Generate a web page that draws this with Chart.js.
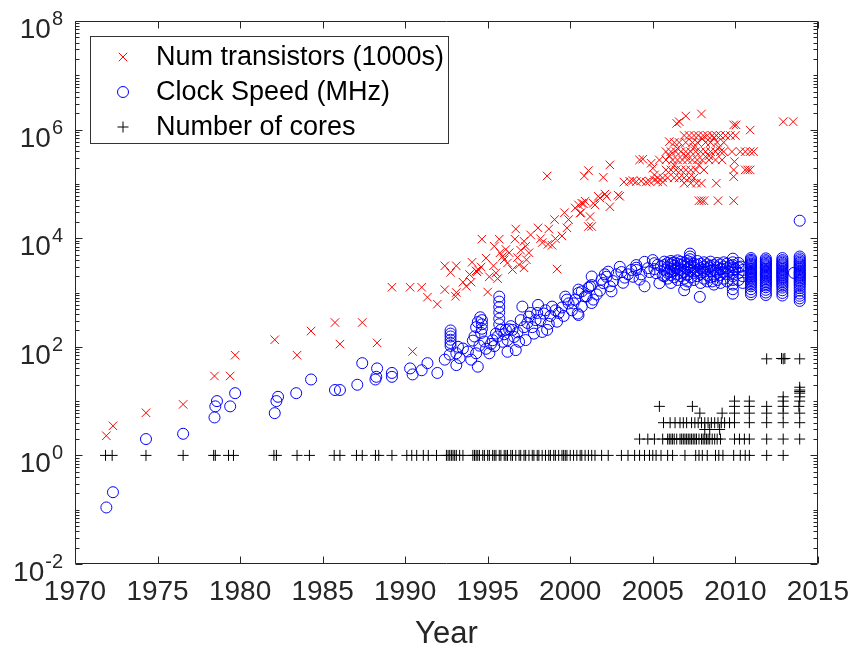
<!doctype html>
<html lang="en-US">
<head>
<meta charset="utf-8" />
<title>Processor trends</title>
<script src="https://cdn.jsdelivr.net/npm/chart.js"></script>
<style>
  body { margin: 0; background: #fff; }
  #wrap { width: 860px; height: 650px; }
</style>
</head>
<body>
<div id="wrap"><canvas id="chart" width="860" height="650"></canvas></div>
<script>
// axis ticks
const xTicks = [1970, 1975, 1980, 1985, 1990, 1995, 2000, 2005, 2010, 2015];
const yTickExponents = [-2, 0, 2, 4, 6, 8];

// number of transistors (in 1000s), [year, value]
const transistorsEarly = [
  [1971.9, 2.3], [1972.3, 3.5], [1974.3, 6.1], [1976.55, 8.7], [1978.45, 29], [1979.4, 29],
  [1979.7, 70], [1982.1, 135], [1983.45, 70], [1984.3, 195], [1985.75, 280], [1986.05, 112],
  [1987.4, 280], [1988.3, 118]
];
const transistors90s = [
  [1989.2, 1250], [1990.3, 1250], [1991.0, 1250], [1990.45, 82], [1991.35, 820], [1991.95, 610],
  [1992.4, 3100], [1992.4, 1130], [1992.75, 2350], [1993.1, 3100], [1993.1, 1000], [1993.05, 850],
  [1993.5, 1550], [1993.7, 1300], [1993.9, 2150], [1994.05, 3600], [1994.3, 2500], [1994.35, 2400],
  [1994.45, 2600], [1994.0, 1550], [1994.65, 9600], [1995.0, 1020], [1995.4, 7100], [1995.7, 9600],
  [1995.35, 3100], [1995.5, 2300], [1995.6, 1800], [1995.75, 5400], [1996.0, 4000], [1996.3, 5400],
  [1996.5, 2650], [1996.7, 14800], [1996.65, 9600], [1996.9, 3250], [1997.2, 2850], [1997.2, 8800],
  [1997.3, 7100], [1997.5, 5400], [1997.35, 4000], [1994.9, 4300], [1994.6, 2950], [1995.1, 1950],
  [1995.9, 4600], [1996.1, 6200], [1996.2, 3500], [1996.8, 4400], [1997.0, 6000], [1997.6, 11500],
  [1998.05, 15500], [1998.2, 9800], [1998.3, 8300], [1998.7, 14800], [1998.65, 7700], [1998.9, 7400],
  [1998.6, 140000], [1999.05, 22000], [1999.2, 2700], [1999.1, 9800], [1999.5, 11000], [1999.65, 29500],
  [1999.9, 22000], [1999.8, 15500], [2000.3, 36000], [2000.65, 29500], [2000.8, 43000], [2000.85, 140000]
];
const transistors2000s = [
  [2001.1, 176000], [2001.1, 16400], [2001.4, 44000], [2001.3, 16400], [2002.4, 224000], [2002.0, 132000],
  [2000.5, 41000], [2000.7, 44000], [2000.6, 29000], [2001.2, 25000], [2001.5, 41000], [2001.8, 55000],
  [2002.2, 59000], [2002.4, 38000], [2003.0, 59000], [2000.9, 48000], [2001.7, 59000], [2002.1, 65000],
  [2002.9, 62000], [2003.25, 108000], [2003.6, 112000], [2003.8, 115000], [2004.0, 110000], [2004.3, 113000],
  [2004.6, 108000], [2004.8, 112000], [2005.1, 118000], [2005.3, 110000], [2005.6, 108000], [2004.4, 285000],
  [2005.0, 195000], [2005.4, 276000], [2006.0, 600000], [2005.1, 146000], [2004.9, 240000], [2004.2, 276000],
  [2006.45, 1300000], [2006.6, 1400000], [2007.0, 1780000], [2007.95, 1940000],
  [2006.9, 103000], [2007.3, 103000], [2007.65, 103000], [2007.95, 103000], [2008.85, 103000],
  [2007.8, 49000], [2007.95, 49000], [2008.1, 49000], [2008.95, 49000], [2009.9, 49000],
  [2009.9, 181000], [2009.9, 136000], [2009.95, 257000], [2009.9, 1220000], [2010.05, 1220000],
  [2010.9, 980000], [2009.8, 393000], [2010.3, 393000], [2010.6, 393000], [2010.9, 393000], [2011.1, 393000],
  [2010.6, 181000], [2010.75, 181000], [2010.9, 181000], [2012.9, 1400000], [2013.5, 1400000]
];
const transistorsCluster = [
  [2006.9, 780000], [2007.2, 780000], [2007.5, 780000], [2007.75, 780000], [2008.05, 780000], [2008.3, 780000],
  [2008.6, 780000], [2008.85, 780000], [2009.1, 780000], [2009.4, 780000], [2009.7, 780000], [2010.0, 780000],
  [2006.3, 580000], [2006.6, 580000], [2007.0, 580000], [2007.4, 580000], [2007.7, 580000], [2008.2, 580000],
  [2008.5, 580000], [2008.9, 580000], [2009.3, 580000],
  [2005.8, 393000], [2006.1, 393000], [2006.4, 393000], [2006.7, 393000], [2007.0, 393000], [2007.3, 393000],
  [2007.6, 393000], [2007.9, 393000], [2008.2, 393000], [2008.5, 393000], [2008.8, 393000], [2009.1, 393000],
  [2009.3, 393000],
  [2005.8, 276000], [2006.2, 276000], [2006.5, 276000], [2006.8, 276000], [2007.1, 276000], [2007.4, 276000],
  [2007.7, 276000], [2008.0, 276000], [2008.4, 276000], [2008.8, 276000], [2009.2, 276000],
  [2005.8, 181000], [2006.1, 181000], [2006.4, 181000], [2006.7, 181000], [2007.0, 181000], [2007.3, 181000],
  [2007.6, 181000], [2008.1, 181000],
  [2005.3, 129000], [2005.6, 129000], [2005.9, 129000], [2006.3, 129000], [2006.6, 129000], [2006.9, 129000],
  [2007.2, 129000], [2007.5, 129000],
  [2006.0, 330000], [2006.5, 450000], [2007.0, 330000], [2007.5, 470000], [2008.0, 680000], [2008.4, 330000],
  [2008.7, 700000], [2009.0, 470000], [2007.8, 220000], [2006.3, 220000]
];

// clock speed (MHz), [year, value]
const clockEarly = [
  [1971.9, 0.11], [1972.3, 0.21], [1974.3, 2.0], [1976.55, 2.5], [1978.45, 5.0], [1978.5, 8.0],
  [1978.6, 10], [1979.4, 8.0], [1979.7, 14], [1982.1, 6.0], [1982.2, 10], [1982.3, 12],
  [1983.4, 14], [1984.3, 25], [1985.75, 16], [1986.05, 16], [1987.1, 20], [1987.4, 50],
  [1988.2, 25], [1988.3, 40], [1988.25, 28], [1989.2, 33], [1989.2, 28], [1990.3, 40],
  [1990.45, 31], [1991.0, 37], [1991.35, 50], [1991.95, 33], [1992.4, 58]
];
const clock90s = [
  [1992.75, 200], [1992.75, 175], [1992.75, 155], [1992.75, 135], [1992.75, 118], [1992.75, 104],
  [1992.7, 72], [1993.1, 76], [1993.1, 46], [1993.5, 93], [1993.3, 62], [1993.8, 82], [1993.2, 100],
  [1994.1, 130], [1994.3, 230], [1994.4, 285], [1994.55, 350], [1994.65, 310], [1994.65, 260],
  [1994.65, 215], [1994.3, 76], [1994.0, 58], [1994.4, 43], [1994.5, 105], [1994.2, 155],
  [1994.8, 125], [1994.9, 92], [1994.6, 180],
  [1995.1, 76], [1995.7, 840], [1995.7, 680], [1995.7, 540], [1995.7, 430], [1995.7, 330],
  [1995.7, 260], [1995.3, 132], [1995.5, 175], [1995.4, 103], [1995.6, 155], [1995.8, 205],
  [1995.2, 113], [1995.9, 124],
  [1996.1, 205], [1996.3, 210], [1996.5, 205], [1996.2, 133], [1996.6, 152], [1996.7, 87],
  [1996.2, 81], [1996.0, 170], [1996.4, 240], [1996.8, 185], [1996.9, 124],
  [1997.1, 550], [1997.5, 360], [1997.2, 230], [1997.7, 230], [1997.8, 175], [1997.3, 133],
  [1997.4, 275], [1997.0, 310], [1997.6, 420], [1997.9, 310],
  [1998.05, 590], [1998.4, 410], [1998.7, 265], [1998.3, 188], [1998.9, 550], [1998.2, 310],
  [1998.5, 470], [1998.8, 370], [1998.6, 205], [1998.0, 420],
  [1999.2, 290], [1999.7, 840], [1999.9, 630], [1999.5, 530], [1999.3, 420], [1999.1, 470],
  [1999.6, 370], [1999.8, 740]
];
const clock2000s = [
  [2000.1, 470], [2000.45, 410], [2000.7, 1050], [2000.5, 980], [2000.5, 1130], [2000.5, 385],
  [2000.7, 550], [2000.3, 740], [2000.2, 630], [2000.9, 850],
  [2001.0, 850], [2001.2, 1300], [2001.3, 1970], [2001.3, 640], [2001.1, 1220], [2001.3, 1370],
  [2001.4, 740], [2001.6, 920], [2001.8, 1080], [2001.9, 1730],
  [2002.0, 1490], [2002.1, 2160], [2002.3, 2420], [2002.5, 1050], [2002.2, 1950], [2002.6, 1620],
  [2002.8, 2160], [2002.4, 1300],
  [2003.0, 2970], [2003.1, 2380], [2003.3, 1880], [2003.5, 2160], [2003.7, 2600], [2003.2, 1510],
  [2003.8, 1950],
  [2004.0, 3200], [2004.0, 2860], [2004.0, 2600], [2004.5, 1300], [2004.5, 3670], [2004.3, 2160],
  [2004.7, 2800], [2004.2, 1730], [2004.8, 2380],
  [2005.0, 3950], [2005.1, 3460], [2005.4, 1490], [2005.2, 2270], [2005.5, 3020], [2005.3, 3240],
  [2005.6, 2050], [2005.1, 2700]
];
const clockMulticore = [
  [2005.7, 2000], [2005.7, 2600], [2005.7, 3200], [2005.7, 3700],
  [2005.9, 1800], [2005.9, 2300], [2005.9, 2900], [2005.9, 3500],
  [2006.0, 2450],
  [2006.1, 1500], [2006.1, 2100], [2006.1, 2700], [2006.1, 3300], [2006.1, 3800],
  [2006.2, 3500],
  [2006.3, 1900], [2006.3, 2500], [2006.3, 3100], [2006.3, 3600],
  [2006.4, 2800],
  [2006.5, 1700], [2006.5, 2200], [2006.5, 2800], [2006.5, 3400], [2006.5, 3900],
  [2006.7, 2000], [2006.7, 2600], [2006.7, 3200], [2006.7, 3700],
  [2006.8, 2300],
  [2006.9, 1100], [2006.9, 1800], [2006.9, 2400], [2006.9, 3000], [2006.9, 3500],
  [2007.0, 1400],
  [2007.1, 1600], [2007.1, 2100], [2007.1, 2700], [2007.1, 3300], [2007.1, 3800],
  [2007.2, 2900],
  [2007.25, 4100], [2007.25, 4600], [2007.25, 5200],
  [2007.3, 1900], [2007.3, 2500], [2007.3, 3100], [2007.3, 3600],
  [2007.5, 1700], [2007.5, 2300], [2007.5, 2900], [2007.5, 3400],
  [2007.6, 2450],
  [2007.7, 2000], [2007.7, 2600], [2007.7, 3200], [2007.7, 3800],
  [2007.85, 830],
  [2007.9, 1500], [2007.9, 2200], [2007.9, 2800], [2007.9, 3400],
  [2008.0, 2600],
  [2008.1, 1800], [2008.1, 2400], [2008.1, 3000], [2008.1, 3600],
  [2008.3, 1600], [2008.3, 2100], [2008.3, 2700], [2008.3, 3300],
  [2008.4, 2900],
  [2008.5, 1900], [2008.5, 2500], [2008.5, 3100], [2008.5, 3700],
  [2008.6, 1600],
  [2008.7, 1400], [2008.7, 2000], [2008.7, 2600], [2008.7, 3200],
  [2008.8, 2500],
  [2008.9, 1700], [2008.9, 2300], [2008.9, 2900], [2008.9, 3500],
  [2009.1, 1500], [2009.1, 2100], [2009.1, 2700], [2009.1, 3300],
  [2009.2, 2700],
  [2009.3, 1800], [2009.3, 2400], [2009.3, 3000], [2009.3, 3600],
  [2009.5, 1600], [2009.5, 2200], [2009.5, 2800], [2009.5, 3400],
  [2009.6, 2400], [2009.7, 3100],
  [2009.85, 950], [2009.85, 1150], [2009.85, 1400], [2009.85, 1700], [2009.85, 2000],
  [2009.85, 2300], [2009.85, 2600], [2009.85, 2900], [2009.85, 3200], [2009.85, 3600], [2009.85, 4200],
  [2010.0, 2700],
  [2010.2, 1700], [2010.2, 2300], [2010.2, 2900], [2010.2, 3500],
  [2010.35, 3000],
  [2010.45, 1500], [2010.45, 2000], [2010.45, 2600]
];
const clockRecent = [
  [2010.95, 920], [2010.95, 1020], [2010.95, 1150], [2010.95, 1300], [2010.95, 1400], [2010.95, 1500],
  [2010.95, 1600], [2010.95, 1700], [2010.95, 1800], [2010.95, 1900], [2010.95, 2000], [2010.95, 2100],
  [2010.95, 2200], [2010.95, 2300], [2010.95, 2400], [2010.95, 2500], [2010.95, 2650], [2010.95, 2800],
  [2010.95, 2950], [2010.95, 3100], [2010.95, 3250], [2010.95, 3400], [2010.95, 3600], [2010.95, 3800],
  [2010.95, 4000], [2010.95, 4300],
  [2011.85, 900], [2011.85, 1000], [2011.85, 1120], [2011.85, 1250], [2011.85, 1350], [2011.85, 1450],
  [2011.85, 1550], [2011.85, 1650], [2011.85, 1750], [2011.85, 1850], [2011.85, 1950], [2011.85, 2050],
  [2011.85, 2150], [2011.85, 2250], [2011.85, 2350], [2011.85, 2450], [2011.85, 2600], [2011.85, 2750],
  [2011.85, 2900], [2011.85, 3050], [2011.85, 3200], [2011.85, 3350], [2011.85, 3550], [2011.85, 3750],
  [2011.85, 3950], [2011.85, 4250],
  [2012.85, 880], [2012.85, 980], [2012.85, 1100], [2012.85, 1230], [2012.85, 1330], [2012.85, 1430],
  [2012.85, 1530], [2012.85, 1630], [2012.85, 1730], [2012.85, 1830], [2012.85, 1930], [2012.85, 2030],
  [2012.85, 2130], [2012.85, 2230], [2012.85, 2330], [2012.85, 2430], [2012.85, 2580], [2012.85, 2730],
  [2012.85, 2880], [2012.85, 3030], [2012.85, 3180], [2012.85, 3330], [2012.85, 3530], [2012.85, 3730],
  [2012.85, 3950], [2012.85, 4300], [2013.55, 2300],
  [2013.9, 700], [2013.9, 780], [2013.9, 870], [2013.9, 960], [2013.9, 1080], [2013.9, 1200],
  [2013.9, 1320], [2013.9, 1420], [2013.9, 1520], [2013.9, 1620], [2013.9, 1720], [2013.9, 1820],
  [2013.9, 1920], [2013.9, 2020], [2013.9, 2120], [2013.9, 2220], [2013.9, 2320], [2013.9, 2420],
  [2013.9, 2570], [2013.9, 2720], [2013.9, 2870], [2013.9, 3020], [2013.9, 3170], [2013.9, 3320],
  [2013.9, 3520], [2013.9, 3720], [2013.9, 3950], [2013.9, 4250], [2013.9, 4600], [2013.9, 21000]
];

// number of cores: years with 1, 2 and 4 cores, then the rest as [year, cores]
const coreYears1 = [
  1971.85, 1972.25, 1974.3, 1976.55, 1978.4, 1978.5, 1979.3, 1979.6, 1982.05, 1982.2, 1983.45, 1984.2,
  1985.7, 1986.05, 1987.05, 1987.4, 1988.2, 1988.4, 1989.2, 1990.1, 1990.4, 1990.7, 1991.1, 1991.4,
  1991.9, 1992.5, 1992.6, 1992.7, 1992.8, 1992.9, 1993.0, 1993.1, 1993.3, 1993.5, 1994.1, 1994.2,
  1994.3, 1994.4, 1994.5, 1994.7, 1994.8, 1995.0, 1995.1, 1995.3, 1995.4, 1995.5, 1995.7, 1995.8,
  1996.0, 1996.1, 1996.2, 1996.4, 1996.5, 1996.7, 1996.9, 1997.0, 1997.2, 1997.3, 1997.5, 1997.7,
  1997.8, 1998.0, 1998.1, 1998.3, 1998.5, 1998.7, 1998.8, 1999.0, 1999.1, 1999.3, 1999.5, 1999.6,
  1999.7, 1999.8, 2000.0, 2000.2, 2000.4, 2000.6, 2000.7, 2000.9, 2001.1, 2001.3, 2001.5, 2001.9,
  2002.3, 2003.1, 2003.5, 2003.9, 2004.2, 2004.5, 2004.8, 2005.0, 2005.2, 2005.5, 2005.9, 2006.2,
  2006.95, 2007.6, 2007.8, 2008.0, 2008.3, 2008.8, 2009.0, 2009.25, 2009.9, 2010.3, 2010.6, 2010.85,
  2011.9, 2012.9
];
const coreYears2 = [
  2004.2, 2004.7, 2005.1, 2005.6, 2005.9, 2006.0, 2006.1, 2006.2, 2006.3, 2006.45, 2006.65, 2006.75,
  2006.85, 2006.95, 2007.05, 2007.15, 2007.25, 2007.35, 2007.45, 2007.55, 2007.65, 2007.8, 2007.95,
  2008.05, 2008.15, 2008.25, 2008.35, 2008.45, 2008.6, 2008.75, 2008.9, 2009.1, 2009.95, 2010.25,
  2010.55, 2010.85, 2011.9, 2012.9, 2013.9
];
const coreYears4 = [
  2005.65, 2006.05, 2006.35, 2006.65, 2006.85, 2007.05, 2007.35, 2007.55, 2007.75, 2007.95, 2008.15,
  2008.35, 2008.55, 2008.75, 2008.95, 2009.15, 2009.35, 2009.65, 2009.95, 2010.85, 2011.9, 2012.9, 2013.9
];
const coresMany = [
  [2008.15, 3], [2008.45, 3], [2009.05, 3], [2007.85, 6], [2009.2, 6], [2009.95, 6], [2010.85, 6],
  [2011.9, 6], [2012.9, 6], [2013.9, 6], [2005.4, 8], [2007.4, 8], [2009.95, 8], [2010.85, 8],
  [2011.9, 8], [2012.9, 8], [2013.85, 8], [2009.95, 10], [2010.85, 10], [2012.9, 10], [2013.9, 10],
  [2012.9, 12], [2013.9, 12], [2013.9, 14], [2013.9, 15], [2013.9, 16], [2013.9, 18],
  [2011.9, 60], [2012.8, 61], [2012.9, 60], [2013.0, 61], [2013.9, 60]
];

const toPoints = arr => arr.map(([x, y]) => ({x: x, y: y}));
const transistors = [].concat(transistorsEarly, transistors90s, transistors2000s, transistorsCluster);
const clockSpeed = [].concat(clockEarly, clock90s, clock2000s, clockMulticore, clockRecent);
const cores = [].concat(
  coreYears1.map(y => [y, 1]), coreYears2.map(y => [y, 2]), coreYears4.map(y => [y, 4]), coresMany);

const fontFamily = '"Liberation Sans", Arial, Helvetica, sans-serif';
const axisColor = '#262626';

// box, inward ticks, y labels with superscripts and the legend
const framePlugin = {
  id: 'frame',
  afterDraw(chart) {
    const {ctx, chartArea: a, scales: {x, y}} = chart;
    const L = Math.round(a.left) + 0.5, R = Math.round(a.right) - 0.5;
    const T = Math.round(a.top) + 0.5, B = Math.round(a.bottom) - 0.5;
    ctx.save();
    ctx.strokeStyle = axisColor;
    ctx.lineWidth = 1;
    ctx.beginPath();
    ctx.rect(L, T, R - L, B - T);
    xTicks.forEach(v => {
      const px = Math.round(x.getPixelForValue(v)) + 0.5;
      ctx.moveTo(px, B); ctx.lineTo(px, B - 7);
      ctx.moveTo(px, T); ctx.lineTo(px, T + 7);
    });
    for (let e = -2; e <= 8; e++) {
      for (let m = 1; m <= 9; m++) {
        if (e === 8 && m > 1) break;
        const py = Math.round(y.getPixelForValue(m * Math.pow(10, e))) + 0.5;
        const len = (m === 1 && yTickExponents.includes(e)) ? 7 : 4;
        ctx.moveTo(L, py); ctx.lineTo(L + len, py);
        ctx.moveTo(R, py); ctx.lineTo(R - len, py);
      }
    }
    ctx.stroke();

    ctx.fillStyle = axisColor;
    ctx.textBaseline = 'alphabetic';
    yTickExponents.forEach(e => {
      const py = y.getPixelForValue(Math.pow(10, e));
      const sup = String(e);
      ctx.font = '20px ' + fontFamily;
      const sw = ctx.measureText(sup).width;
      const sx = a.left - 12 - sw;
      ctx.textAlign = 'left';
      ctx.fillText(sup, sx, py + 4);
      ctx.font = '28px ' + fontFamily;
      ctx.textAlign = 'right';
      ctx.fillText('10', sx - 1, py + 17);
    });

    // legend
    ctx.fillStyle = '#fff';
    ctx.fillRect(90.5, 36.5, 358, 107);
    ctx.strokeStyle = '#333';
    ctx.strokeRect(90.5, 36.5, 358, 107);
    ctx.font = '27px ' + fontFamily;
    ctx.textAlign = 'left';
    ctx.textBaseline = 'middle';
    chart.data.datasets.forEach((ds, i) => {
      const cy = 57 + i * 35, cx = 123;
      ctx.strokeStyle = ds.pointBorderColor;
      ctx.lineWidth = 1;
      ctx.beginPath();
      if (ds.pointStyle === 'crossRot') {
        const d = ds.pointRadius * Math.SQRT1_2;
        ctx.moveTo(cx - d, cy - d); ctx.lineTo(cx + d, cy + d);
        ctx.moveTo(cx - d, cy + d); ctx.lineTo(cx + d, cy - d);
      } else if (ds.pointStyle === 'circle') {
        ctx.arc(cx, cy, ds.pointRadius, 0, Math.PI * 2);
      } else {
        const r = ds.pointRadius;
        ctx.moveTo(cx - r, cy); ctx.lineTo(cx + r, cy);
        ctx.moveTo(cx, cy - r); ctx.lineTo(cx, cy + r);
      }
      ctx.stroke();
      ctx.fillStyle = '#000';
      ctx.fillText(ds.label, 156, cy + 1);
    });
    ctx.restore();
  }
};

new Chart(document.getElementById('chart'), {
  type: 'scatter',
  data: {
    datasets: [
      {
        label: 'Num transistors (1000s)', data: toPoints(transistors), order: 3,
        pointStyle: 'crossRot', pointRadius: 6, pointBorderWidth: 1,
        pointBorderColor: '#ff0000', pointBackgroundColor: 'rgba(0,0,0,0)'
      },
      {
        label: 'Clock Speed (MHz)', data: toPoints(clockSpeed), order: 2,
        pointStyle: 'circle', pointRadius: 5.5, pointBorderWidth: 1,
        pointBorderColor: '#0000ff', pointBackgroundColor: 'rgba(0,0,0,0)'
      },
      {
        label: 'Number of cores', data: toPoints(cores), order: 1,
        pointStyle: 'cross', pointRadius: 5.5, pointBorderWidth: 1,
        pointBorderColor: '#000000', pointBackgroundColor: 'rgba(0,0,0,0)'
      }
    ]
  },
  options: {
    responsive: false,
    animation: false,
    events: [],
    layout: {padding: {top: 21, right: 33, left: 0, bottom: 0}},
    plugins: {legend: {display: false}, tooltip: {enabled: false}},
    scales: {
      x: {
        type: 'linear', min: 1970, max: 2015,
        afterFit: s => { s.height = 86; },
        afterBuildTicks: s => { s.ticks = xTicks.map(v => ({value: v})); },
        grid: {display: false, drawTicks: false},
        border: {display: false},
        ticks: {
          padding: 11, color: axisColor, maxRotation: 0, autoSkip: false,
          font: {size: 28, family: fontFamily},
          callback: v => String(v)
        },
        title: {
          display: true, text: 'Year', color: axisColor, padding: 0,
          font: {size: 31, family: fontFamily, lineHeight: 1}
        }
      },
      y: {
        type: 'logarithmic', min: 0.01, max: 1e8,
        afterFit: s => { s.width = 75; },
        grid: {display: false, drawTicks: false},
        border: {display: false},
        ticks: {display: false}
      }
    }
  },
  plugins: [framePlugin]
});
</script>
</body>
</html>
